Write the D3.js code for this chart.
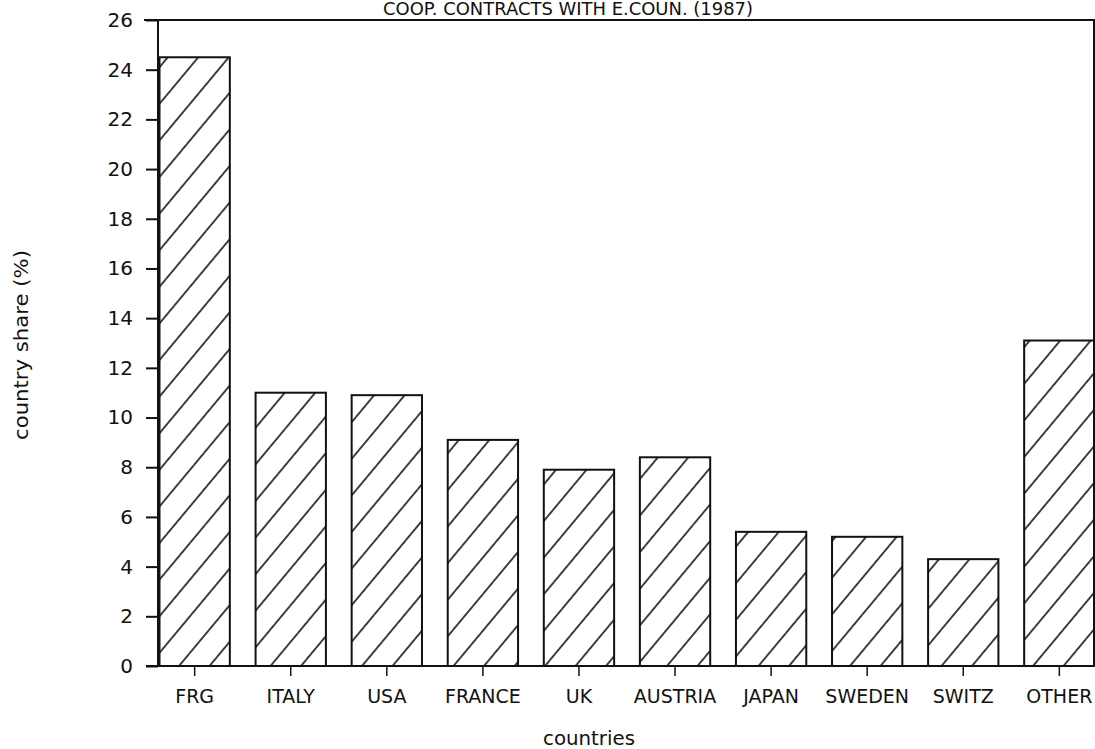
<!DOCTYPE html>
<html>
<head>
<meta charset="utf-8">
<script src="https://cdn.jsdelivr.net/npm/d3@7"></script>
<style>
  html, body { margin: 0; padding: 0; background: #fff; }
  svg { display: block; }
  text { font-family: "DejaVu Sans", sans-serif; fill: #111; }
</style>
</head>
<body>
<svg id="chart" width="1095" height="749"></svg>
<script>
// Country shares of cooperation contracts with Eastern countries, 1987
const countries = ["FRG", "ITALY", "USA", "FRANCE", "UK", "AUSTRIA", "JAPAN", "SWEDEN", "SWITZ", "OTHER"];
const shares = [24.5, 11.0, 10.9, 9.1, 7.9, 8.4, 5.4, 5.2, 4.3, 13.1];
const yTicks = [0, 2, 4, 6, 8, 10, 12, 14, 16, 18, 20, 22, 24, 26];
const titleText = "COOP. CONTRACTS WITH E.COUN. (1987)";
const xTitle = "countries";
const yTitle = "country share (%)";

const svg = d3.select("#chart");
const ink = "#111";
const font = "DejaVu Sans, sans-serif";

const plot = { left: 158, right: 1094, top: 20, bottom: 666 };

const x = d3.scaleBand()
  .domain(countries)
  .range([159.5, 1094.5])
  .paddingInner(0.268)
  .paddingOuter(0);

const y = d3.scaleLinear()
  .domain([0, 26])
  .range([plot.bottom, plot.top]);

// diagonal hatch fill shared by all bars
const hatchH = 30.5, slope = 1.2;
const angle = Math.atan(slope) * 180 / Math.PI;
const gap = hatchH * Math.sin(Math.atan(slope));
const defs = svg.append("defs");
const pat = defs.append("pattern")
  .attr("id", "hatch")
  .attr("patternUnits", "userSpaceOnUse")
  .attr("width", 20)
  .attr("height", gap)
  .attr("patternTransform", `translate(17.25,0) rotate(${-angle})`);
pat.append("rect").attr("width", 20).attr("height", gap).attr("fill", "#fff");
pat.append("line")
  .attr("x1", -1).attr("x2", 21)
  .attr("y1", gap / 2).attr("y2", gap / 2)
  .attr("stroke", ink).attr("stroke-width", 1.6);

// bars
svg.append("g").selectAll("rect")
  .data(countries)
  .join("rect")
  .attr("x", d => x(d))
  .attr("y", (d, i) => y(shares[i]))
  .attr("width", x.bandwidth())
  .attr("height", (d, i) => y(0) - y(shares[i]))
  .attr("fill", "url(#hatch)")
  .attr("stroke", ink)
  .attr("stroke-width", 2);

// frame: top, right, left axis, baseline
const frame = svg.append("g").attr("stroke", ink).attr("stroke-width", 2).attr("fill", "none");
frame.append("line").attr("x1", 144).attr("x2", 1095).attr("y1", plot.top).attr("y2", plot.top);
frame.append("line").attr("x1", plot.right).attr("x2", plot.right).attr("y1", plot.top).attr("y2", plot.bottom);
frame.append("line").attr("x1", plot.left).attr("x2", plot.left).attr("y1", plot.top).attr("y2", plot.bottom);
frame.append("line").attr("x1", 146).attr("x2", plot.right).attr("y1", plot.bottom).attr("y2", plot.bottom);

// y axis
const yAxis = svg.append("g")
  .attr("transform", `translate(${plot.left},0)`)
  .call(d3.axisLeft(y).tickValues(yTicks).tickSize(12).tickSizeOuter(0).tickPadding(13).tickFormat(d3.format("d")));
yAxis.select(".domain").remove();
yAxis.selectAll(".tick line").attr("stroke", ink).attr("stroke-width", 2);
yAxis.selectAll(".tick text")
  .attr("font-size", 20)
  .attr("font-family", font)
  .attr("fill", ink);

// x axis
const xAxis = svg.append("g")
  .attr("transform", `translate(0,${plot.bottom})`)
  .call(d3.axisBottom(x).tickSize(10).tickSizeOuter(0));
xAxis.select(".domain").remove();
xAxis.selectAll(".tick line").attr("stroke", ink).attr("stroke-width", 1.5);
xAxis.selectAll(".tick text")
  .attr("y", 37).attr("dy", 0)
  .attr("font-size", 19)
  .attr("font-family", font)
  .attr("fill", ink);

// titles
svg.append("text")
  .attr("x", 383).attr("y", 15)
  .attr("font-size", 18)
  .attr("textLength", 370)
  .attr("lengthAdjust", "spacingAndGlyphs")
  .text(titleText);

svg.append("text")
  .attr("x", 543).attr("y", 745)
  .attr("font-size", 20)
  .attr("textLength", 92)
  .attr("lengthAdjust", "spacingAndGlyphs")
  .text(xTitle);

svg.append("text")
  .attr("transform", "translate(28,345) rotate(-90)")
  .attr("text-anchor", "middle")
  .attr("font-size", 20)
  .attr("textLength", 190)
  .attr("lengthAdjust", "spacingAndGlyphs")
  .text(yTitle);
</script>
</body>
</html>
